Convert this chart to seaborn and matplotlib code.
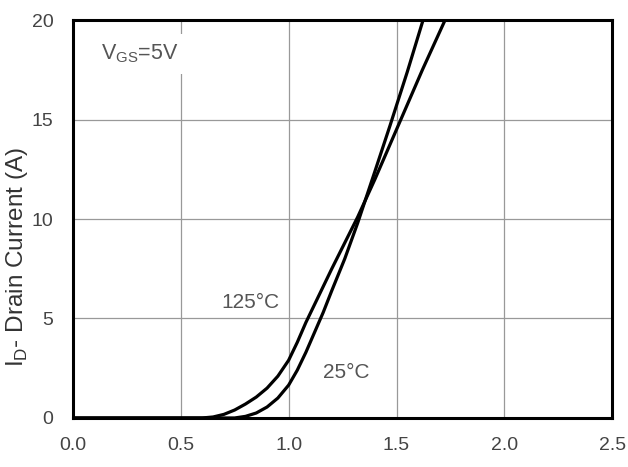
import numpy as np
import pandas as pd
import matplotlib
matplotlib.use("Agg")
import matplotlib.pyplot as plt
import seaborn as sns

# transfer characteristic
vgs_125 = [0.0, 0.60, 0.65, 0.70, 0.75, 0.80, 0.85, 0.90, 0.95, 1.00, 1.04, 1.08,
           1.12, 1.16, 1.20, 1.26, 1.32, 1.40, 1.52, 1.62, 1.725]
id_125 = [0.0, 0.0, 0.05, 0.18, 0.4, 0.7, 1.05, 1.5, 2.1, 2.9, 3.8, 4.8,
          5.7, 6.6, 7.5, 8.8, 10.1, 12.0, 15.0, 17.5, 20.0]
vgs_25 = [0.0, 0.75, 0.80, 0.85, 0.90, 0.95, 1.00, 1.04, 1.08, 1.12, 1.16, 1.20,
          1.26, 1.32, 1.40, 1.47, 1.55, 1.623]
id_25 = [0.0, 0.0, 0.08, 0.25, 0.55, 1.0, 1.65, 2.4, 3.3, 4.3, 5.3, 6.4,
         8.0, 9.8, 12.4, 14.7, 17.4, 20.0]

xticks = [0.0, 0.5, 1.0, 1.5, 2.0, 2.5]
yticks = [0, 5, 10, 15, 20]

df = pd.concat([
    pd.DataFrame({"v": vgs_125, "i": id_125, "T": "125°C"}),
    pd.DataFrame({"v": vgs_25, "i": id_25, "T": "25°C"}),
])

sns.set_theme(style="white")
plt.rcParams['font.family'] = ['Liberation Sans', 'DejaVu Sans']
plt.rcParams['mathtext.fontset'] = 'custom'
plt.rcParams['mathtext.rm'] = 'Liberation Sans'

fig = plt.figure(figsize=(6.28, 4.67), dpi=100)
ax = fig.add_axes([0.116, 0.105, 0.859, 0.852])

ax.grid(True, color="#999999", linewidth=0.9)
ax.set_axisbelow(True)

sns.lineplot(data=df, x="v", y="i", units="T", estimator=None, sort=False,
             color="black", linewidth=2.3, ax=ax, legend=False)

ax.set_xlim(0, 2.5)
ax.set_ylim(0, 20)
ax.set_xticks(xticks)
ax.set_xticklabels([f"{t:.1f}" for t in xticks])
ax.set_yticks(yticks)
ax.tick_params(length=0, labelsize=14, labelcolor="#444444")
ax.tick_params(axis="x", pad=14)
ax.tick_params(axis="y", pad=14)
for s in ax.spines.values():
    s.set_color("black")
    s.set_linewidth(2.2)

ax.set_xlabel("")
ax.set_ylabel(r"I$_{\rm D}$- Drain Current (A)", fontsize=17.5, color="#333333")
ax.yaxis.set_label_coords(-0.079, 0.405)

box = dict(facecolor="white", edgecolor="none", pad=6)
ax.text(0.13, 18.3, r"V$_{\rm GS}$=5V", fontsize=15.5, color="#555555", ha="left", va="center", bbox=box)
ax.text(0.69, 5.8, "125°C", fontsize=15, color="#555555", ha="left", va="center",
        bbox=dict(facecolor="white", edgecolor="none", pad=3))
ax.text(1.16, 2.3, "25°C", fontsize=15, color="#555555", ha="left", va="center")

fig.savefig("out.png", dpi=100)
